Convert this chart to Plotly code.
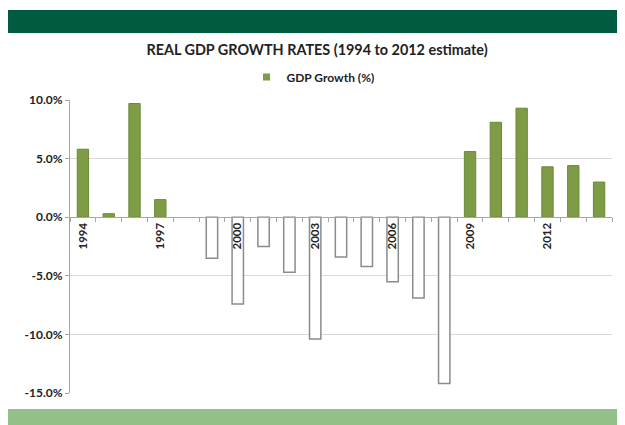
import plotly.graph_objects as go

years = list(range(1994, 2015))
growth = [5.8, 0.3, 9.7, 1.5, None, -3.5, -7.4, -2.5, -4.7, -10.4, -3.4, -4.2,
          -5.5, -6.9, -14.2, 5.6, 8.1, 9.3, 4.3, 4.4, 3.0]
x_tick_years = [1994, 1997, 2000, 2003, 2006, 2009, 2012]
x_tick_labels = [str(y) for y in x_tick_years]
y_tick_vals = [10, 5, 0, -5, -10, -15]
y_tick_labels = ["10.0%", "5.0%", "0.0%", "-5.0%", "-10.0%", "-15.0%"]
series_name = "GDP Growth (%)"
title_text = "REAL GDP GROWTH RATES (1994 to 2012 estimate)"

pos = [v if (v is not None and v >= 0) else None for v in growth]
neg = [v if (v is not None and v < 0) else None for v in growth]

GREEN = "#7E9C45"
FONT = "Lato"
TXT = "#222222"
# page offset of the figure inside the html body (default 8px body margin)
OFF = 8
PL, PR, PT, PB = 70, 612, 100, 393  # plot area in page pixels


def px_x(p):
    return (p - PL) / (PR - PL)


def px_y(p):
    return (PB - p) / (PB - PT)


fig = go.Figure()
fig.add_trace(go.Bar(x=years, y=pos, name=series_name, width=0.44, showlegend=False,
                     marker=dict(color=GREEN, line=dict(color="#6A8936", width=1))))
fig.add_trace(go.Bar(x=years, y=neg, name=series_name, width=0.44, showlegend=False,
                     marker=dict(color="#FFFFFF", line=dict(color="#8C8C8C", width=1.5))))
# legend entry (small square key like the original)
fig.add_trace(go.Scatter(x=[None], y=[None], mode="markers", name="<b>" + series_name + "</b>",
                         marker=dict(symbol="square", size=7, color=GREEN)))

fig.update_layout(
    width=625, height=425,
    margin=dict(l=PL - OFF, r=625 - (PR - OFF), t=PT - OFF, b=425 - (PB - OFF), autoexpand=False),
    paper_bgcolor="white", plot_bgcolor="white",
    barmode="overlay",
    font=dict(family=FONT, color=TXT),
    title=dict(text="<b>" + title_text + "</b>", x=(317 - OFF) / 625, xanchor="center",
               y=1 - (50 - OFF) / 425, yanchor="middle", font=dict(size=14.4, color=TXT)),
    legend=dict(orientation="h", x=px_x(313), xanchor="center", itemwidth=30,
                y=px_y(77), yanchor="middle", font=dict(size=12, color=TXT),
                bgcolor="rgba(0,0,0,0)", itemsizing="trace"),
    showlegend=True,
    xaxis=dict(range=[1993.5, 2014.5], tickmode="array", tickvals=x_tick_years,
               ticktext=["<b>" + t + "</b>" for t in x_tick_labels], tickangle=-90,
               tickfont=dict(size=11.5, color=TXT),
               anchor="free", position=0.6, showline=True, linecolor="#A6A6A6",
               linewidth=1, showgrid=False, zeroline=False, ticks="",
               minor=dict(tickmode="linear", tick0=1993.5, dtick=1, ticks="outside",
                          ticklen=4, tickcolor="#A6A6A6", showgrid=False)),
    yaxis=dict(range=[-15, 10], tickmode="array", tickvals=y_tick_vals,
               ticktext=["<b>" + t + "</b>" for t in y_tick_labels],
               tickfont=dict(size=12, color=TXT), showgrid=True,
               gridcolor="#D9D9D9", gridwidth=1, zeroline=False, showline=True,
               linecolor="#A6A6A6", linewidth=1, ticks="outside", ticklen=4,
               tickcolor="#A6A6A6"),
    shapes=[
        dict(type="rect", xref="paper", yref="paper", x0=px_x(7), x1=px_x(650),
             y0=px_y(33), y1=px_y(10), fillcolor="#005A40", line=dict(width=0),
             layer="below"),
        dict(type="rect", xref="paper", yref="paper", x0=px_x(7), x1=px_x(650),
             y0=px_y(433), y1=px_y(409), fillcolor="#93BF88", line=dict(width=0),
             layer="below"),
    ],
)

fig.write_html("out.html")
